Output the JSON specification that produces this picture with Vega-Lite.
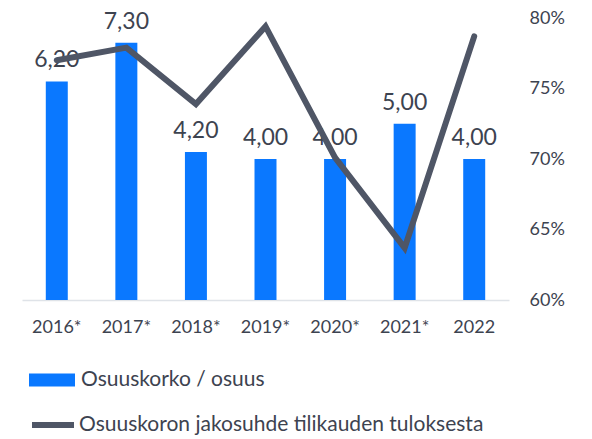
{
  "$schema": "https://vega.github.io/schema/vega-lite/v6.json",
  "width": 487,
  "height": 282,
  "autosize": {"type": "none"},
  "padding": {"left": 22, "top": 18, "right": 83, "bottom": 139},
  "config": {
    "view": {"stroke": null},
    "font": "Lato",
    "locale": {"number": {"decimal": ",", "thousands": " ", "grouping": [3], "currency": ["", " €"]}}
  },
  "data": {
    "values": [
      {"year": "2016*", "osuus": 6.2, "jako": 77.0, "s1": "Osuuskorko / osuus", "s2": "Osuuskoron jakosuhde tilikauden tuloksesta"},
      {"year": "2017*", "osuus": 7.3, "jako": 77.9, "s1": "Osuuskorko / osuus", "s2": "Osuuskoron jakosuhde tilikauden tuloksesta"},
      {"year": "2018*", "osuus": 4.2, "jako": 73.9, "s1": "Osuuskorko / osuus", "s2": "Osuuskoron jakosuhde tilikauden tuloksesta"},
      {"year": "2019*", "osuus": 4.0, "jako": 79.4, "s1": "Osuuskorko / osuus", "s2": "Osuuskoron jakosuhde tilikauden tuloksesta"},
      {"year": "2020*", "osuus": 4.0, "jako": 70.1, "s1": "Osuuskorko / osuus", "s2": "Osuuskoron jakosuhde tilikauden tuloksesta"},
      {"year": "2021*", "osuus": 5.0, "jako": 63.7, "s1": "Osuuskorko / osuus", "s2": "Osuuskoron jakosuhde tilikauden tuloksesta"},
      {"year": "2022", "osuus": 4.0, "jako": 78.7, "s1": "Osuuskorko / osuus", "s2": "Osuuskoron jakosuhde tilikauden tuloksesta"}
    ]
  },
  "encoding": {
    "x": {
      "field": "year",
      "type": "ordinal",
      "sort": null,
      "scale": {"paddingInner": 0.684, "paddingOuter": 0.342},
      "axis": {
        "title": null,
        "labelAngle": 0,
        "ticks": false,
        "domainColor": "#dfe3e8",
        "domainWidth": 1.5,
        "labelPadding": 18,
        "labelFontSize": 18,
        "labelColor": "#3d4350"
      }
    }
  },
  "layer": [
    {
      "encoding": {
        "y": {"field": "osuus", "type": "quantitative", "scale": {"domain": [0, 8], "nice": false}, "axis": null}
      },
      "layer": [
        {
          "mark": {"type": "bar"},
          "encoding": {
            "color": {
              "field": "s1",
              "type": "nominal",
              "scale": {"range": ["#0a78ff"]},
              "legend": {
                "title": null,
                "orient": "none",
                "legendX": 7,
                "legendY": 339,
                "symbolType": "M-1,-0.28H1V0.28H-1Z",
                "symbolSize": 2116,
                "symbolStrokeWidth": 0,
                "labelFontSize": 21,
                "labelColor": "#3d4350",
                "labelOffset": 6,
                "labelLimit": 600
              }
            }
          }
        },
        {
          "mark": {"type": "text", "baseline": "bottom", "dy": -9, "fontSize": 23, "color": "#3d4350"},
          "encoding": {"text": {"field": "osuus", "type": "quantitative", "format": ".2f"}}
        }
      ]
    },
    {
      "mark": {"type": "line", "strokeWidth": 6, "strokeCap": "round", "strokeJoin": "miter"},
      "encoding": {
        "y": {
          "field": "jako",
          "type": "quantitative",
          "scale": {"domain": [60, 80], "nice": false, "zero": false},
          "axis": {
            "orient": "right",
            "title": null,
            "values": [60, 65, 70, 75, 80],
            "labelExpr": "datum.value + '%'",
            "ticks": false,
            "domain": false,
            "grid": false,
            "labelPadding": 20,
            "labelFontSize": 18,
            "labelColor": "#3d4350"
          }
        },
        "color": {
          "field": "s2",
          "type": "nominal",
          "scale": {"range": ["#4f5666"]},
          "legend": {
            "title": null,
            "orient": "none",
            "legendX": 7,
            "legendY": 383,
            "symbolType": "M-1,0H1",
            "symbolSize": 1764,
            "symbolStrokeWidth": 6,
            "labelFontSize": 21,
            "labelColor": "#3d4350",
            "labelOffset": 2,
            "labelLimit": 600,
            "symbolFillColor": "transparent"
          }
        }
      }
    }
  ],
  "resolve": {"scale": {"y": "independent", "color": "independent"}}
}
